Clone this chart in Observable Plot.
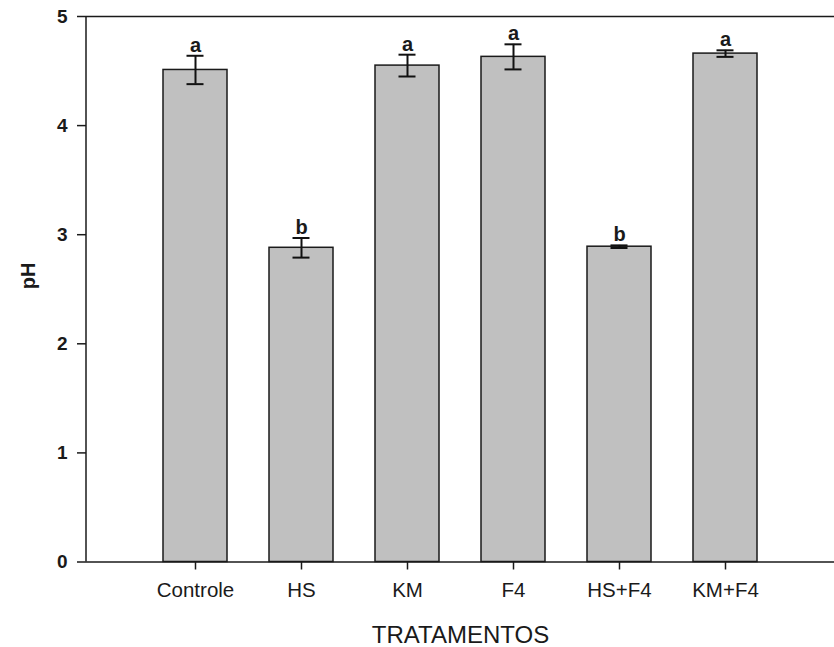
<!DOCTYPE html>
<html>
<head>
<meta charset="utf-8">
<script src="https://cdn.jsdelivr.net/npm/d3@7"></script>
<script src="https://cdn.jsdelivr.net/npm/@observablehq/plot@0.6"></script>
<style>
  html, body { margin: 0; padding: 0; background: #fff; }
</style>
</head>
<body>
<div id="chart"></div>
<script>
const categories = ["Controle", "HS", "KM", "F4", "HS+F4", "KM+F4"];
const phMeans = [4.51, 2.88, 4.55, 4.63, 2.89, 4.66];
const phErrors = [0.13, 0.09, 0.10, 0.115, 0.012, 0.03];
const letters = ["a", "b", "a", "a", "b", "a"];
const yTicks = [0, 1, 2, 3, 4, 5];
const yLabel = ["pH"];
const xLabel = ["TRATAMENTOS"];

const data = categories.map((c, i) => ({
  cat: c, mean: phMeans[i], err: phErrors[i], letter: letters[i]
}));

const ink = "#1a1a1a";
const font = "'Liberation Sans', Arial, Helvetica, sans-serif";

function leftAxisLine() {
  const args = [...arguments];
  const dims = args.find(a => a && typeof a === "object" && "marginLeft" in a && "height" in a);
  const svgNS = "http://www.w3.org/2000/svg";
  const line = document.createElementNS(svgNS, "line");
  const x = dims.marginLeft;
  line.setAttribute("x1", x);
  line.setAttribute("x2", x);
  line.setAttribute("y1", dims.marginTop);
  line.setAttribute("y2", dims.height - dims.marginBottom);
  line.setAttribute("stroke", ink);
  line.setAttribute("stroke-width", 1.5);
  return line;
}

const chart = Plot.plot({
  width: 834,
  height: 647,
  marginTop: 16,
  marginBottom: 85.5,
  marginLeft: 86,
  marginRight: 0,
  style: { fontFamily: font, background: "#fff", color: ink, overflow: "visible" },
  x: { domain: categories, padding: 0.4, insetLeft: 34, insetRight: 34, label: null },
  y: { domain: [0, 5], label: null },
  marks: [
    Plot.barY(data, { x: "cat", y: "mean", fill: "#c0c0c0", stroke: ink, strokeWidth: 1.5 }),
    Plot.ruleX(data, { x: "cat", y1: d => d.mean - d.err, y2: d => d.mean + d.err, stroke: "#111", strokeWidth: 2 }),
    Plot.tickY(data, { x: "cat", y: d => d.mean - d.err, insetLeft: 23.5, insetRight: 23.5, stroke: "#111", strokeWidth: 2 }),
    Plot.tickY(data, { x: "cat", y: d => d.mean + d.err, insetLeft: 23.5, insetRight: 23.5, stroke: "#111", strokeWidth: 2 }),
    Plot.text(data, { x: "cat", y: d => d.mean + d.err, text: "letter", lineAnchor: "bottom", dy: -4, fontSize: 20, fontWeight: "bold", fill: ink }),
    Plot.ruleY([0, 5], { stroke: ink, strokeWidth: 1.5 }),
    leftAxisLine,
    Plot.axisY({ ticks: yTicks, tickFormat: d3.format("d"), tickSize: 9, tickPadding: 10, fontSize: 19, fontWeight: "bold", strokeWidth: 1.5, stroke: ink, fill: ink, label: null }),
    Plot.axisX({ tickSize: 8, tickPadding: 12, fontSize: 20.5, strokeWidth: 1.5, stroke: ink, fill: ink, label: null }),
    Plot.text(yLabel, { frameAnchor: "left", rotate: -90, dx: -58, fontSize: 20, fontWeight: "bold", fill: ink }),
    Plot.text(xLabel, { frameAnchor: "bottom", lineAnchor: "top", dy: 63.5, fontSize: 24, fill: ink })
  ]
});

document.getElementById("chart").appendChild(chart);
</script>
</body>
</html>
